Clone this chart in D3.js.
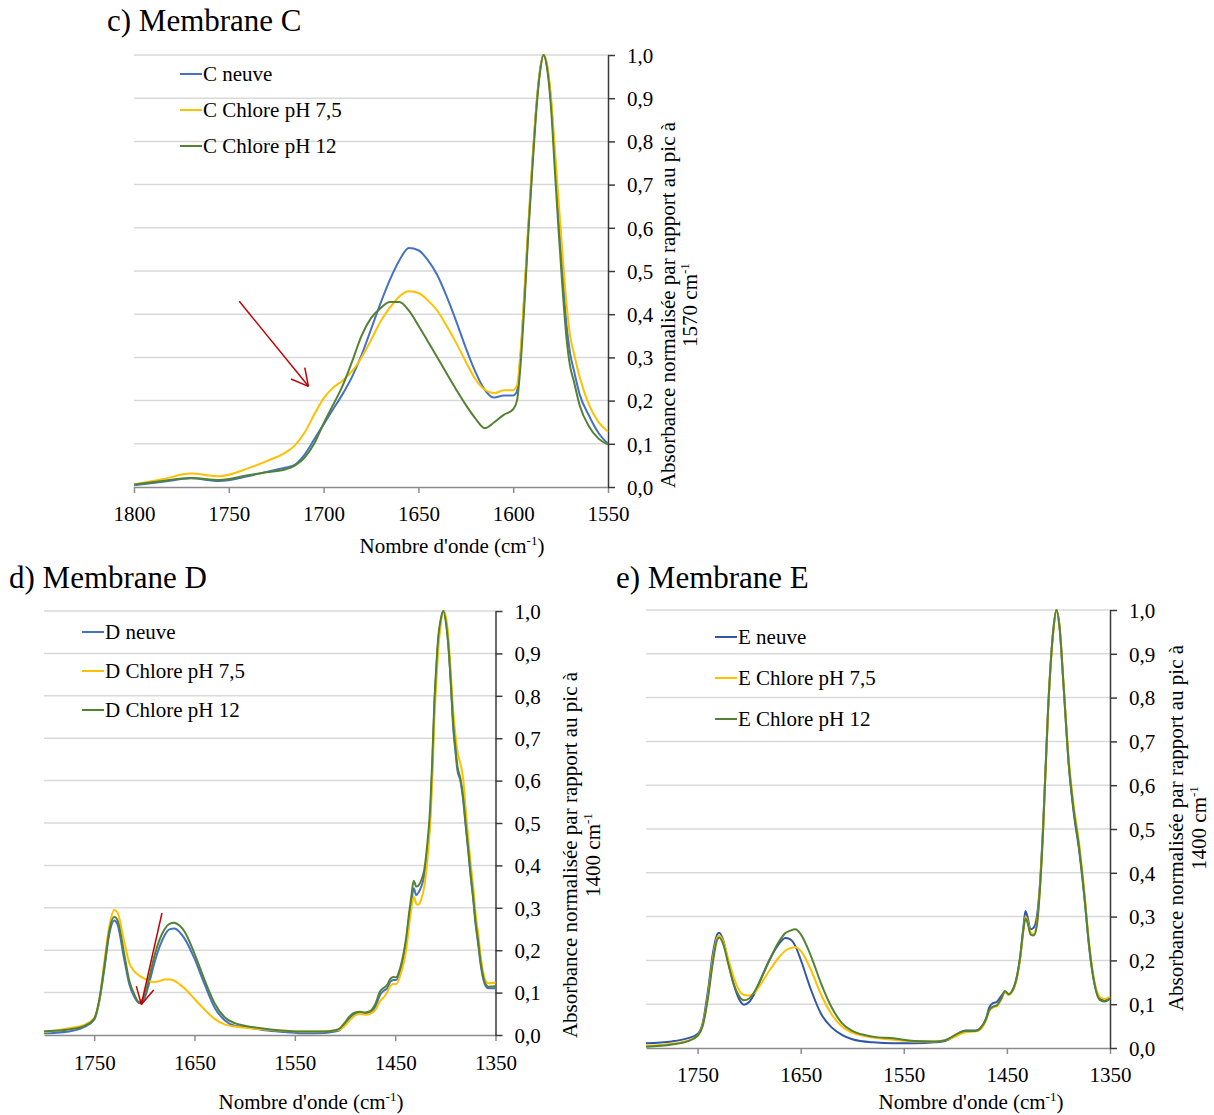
<!DOCTYPE html>
<html><head><meta charset="utf-8">
<script src="https://cdn.jsdelivr.net/npm/d3@7"></script>
<style>
body{margin:0;background:#fff}
svg{display:block;font-family:"Liberation Serif","Times New Roman",serif}
svg text{font-family:"Liberation Serif","Times New Roman",serif !important;fill:#000}
</style>
</head><body>
<svg id="chart" width="1214" height="1115"></svg>
<script>
// ---------- DATA ----------
const yTicks = [0,0.1,0.2,0.3,0.4,0.5,0.6,0.7,0.8,0.9,1.0];
const xTicksC = [1800,1750,1700,1650,1600,1550];
const xTicksDE = [1750,1650,1550,1450,1350];

const seriesNamesC = ["C neuve","C Chlore pH 7,5","C Chlore pH 12"];
const seriesNamesD = ["D neuve","D Chlore pH 7,5","D Chlore pH 12"];
const seriesNamesE = ["E neuve","E Chlore pH 7,5","E Chlore pH 12"];

// Panel C (wavenumber, cm-1)
const waveC = [1800,1785,1770,1755,1740,1730,1720,1715,1710,1705,1700,1695,1690,1685,1680,1675,1670,1665,1660,1655,1650,1645,1640,1635,1630,1625,1620,1615,1610,1605,1600,1598,1596,1594,1592,1590,1588,1586,1584,1582,1580,1578,1576,1574,1572,1570,1568,1565,1560,1555,1550];
const cNeuve = [.004,.012,.02,.014,.025,.035,.045,.052,.075,.11,.145,.18,.215,.255,.305,.365,.425,.48,.525,.553,.548,.525,.49,.44,.383,.322,.267,.225,.207,.212,.212,.222,.31,.45,.6,.74,.87,.96,1.0,.97,.89,.76,.63,.5,.38,.31,.27,.215,.165,.125,.1];
const cPh75 = [.006,.018,.031,.025,.043,.06,.08,.097,.126,.167,.205,.23,.246,.268,.3,.34,.383,.415,.441,.453,.449,.432,.408,.372,.333,.29,.25,.225,.217,.224,.224,.235,.32,.46,.61,.75,.87,.96,1.0,.975,.9,.78,.66,.54,.43,.35,.31,.255,.19,.15,.128];
const cPh12 = [.006,.014,.021,.016,.027,.034,.041,.05,.068,.1,.147,.19,.234,.29,.35,.391,.414,.428,.428,.408,.374,.337,.3,.262,.225,.19,.159,.136,.15,.167,.18,.2,.29,.43,.59,.73,.86,.955,1.0,.965,.875,.73,.59,.46,.35,.28,.245,.19,.14,.112,.098];

// Panel D
const waveD = [1800,1790,1775,1760,1750,1745,1740,1735,1730,1727,1720,1715,1710,1705,1700,1695,1690,1685,1680,1675,1670,1665,1660,1650,1640,1630,1620,1610,1600,1580,1560,1540,1520,1510,1505,1500,1495,1490,1485,1480,1475,1470,1465,1461,1458,1455,1452,1449,1445,1442,1439,1436,1434,1431.5,1429,1427,1424,1421,1418,1415,1413,1411,1409,1407,1405,1402,1399,1397,1395,1392,1390,1388,1385,1382,1380,1377,1375,1372,1370,1367,1365,1362,1360,1357,1350];
const dNeuve = [.004,.005,.008,.019,.036,.078,.153,.237,.27,.262,.178,.12,.09,.075,.086,.124,.17,.207,.234,.249,.251,.243,.228,.18,.12,.065,.035,.022,.019,.011,.007,.004,.005,.008,.012,.025,.04,.05,.052,.05,.053,.065,.095,.105,.11,.125,.13,.13,.15,.18,.22,.28,.31,.346,.33,.335,.35,.375,.43,.52,.63,.77,.86,.93,.97,1.0,.97,.92,.85,.72,.67,.625,.6,.55,.5,.43,.38,.315,.265,.21,.17,.13,.116,.11,.11];
const dPh75 = [.007,.01,.016,.024,.04,.08,.17,.255,.295,.29,.22,.17,.15,.14,.133,.127,.125,.127,.131,.131,.128,.12,.11,.085,.06,.038,.025,.02,.017,.013,.01,.008,.009,.011,.013,.022,.035,.046,.05,.048,.05,.058,.08,.09,.1,.115,.12,.12,.14,.165,.2,.26,.295,.326,.31,.307,.32,.35,.41,.5,.6,.74,.83,.91,.96,1.0,.98,.94,.87,.76,.71,.67,.64,.6,.54,.46,.41,.345,.29,.235,.19,.145,.128,.122,.124];
const dPh12 = [.009,.01,.013,.021,.038,.082,.16,.245,.279,.272,.19,.128,.096,.077,.092,.136,.186,.224,.249,.262,.265,.258,.244,.192,.13,.075,.042,.028,.022,.015,.01,.008,.008,.011,.016,.03,.045,.053,.055,.053,.056,.072,.103,.112,.118,.132,.137,.136,.158,.188,.23,.29,.325,.364,.35,.352,.365,.39,.45,.54,.65,.78,.87,.94,.975,1.0,.965,.92,.85,.73,.68,.635,.605,.555,.505,.435,.385,.32,.27,.215,.175,.135,.12,.114,.115];

// Panel E
const waveE = [1800,1775,1760,1750,1745,1740,1735,1731,1729,1725,1720,1715,1710,1705,1700,1695,1690,1680,1670,1665,1660,1655,1650,1640,1630,1620,1610,1600,1580,1560,1540,1520,1510,1500,1495,1490,1480,1475,1470,1467,1463,1460,1455,1452,1448,1445,1440,1437,1434,1432,1430,1427,1424,1421,1418,1415,1410,1405,1402,1399,1395,1390,1385,1380,1375,1370,1365,1360,1355,1350];
const eNeuve = [.011,.015,.022,.032,.057,.129,.218,.259,.263,.245,.194,.146,.113,.099,.105,.123,.15,.202,.241,.251,.248,.232,.202,.133,.077,.047,.03,.02,.013,.011,.011,.013,.016,.028,.036,.04,.04,.047,.069,.093,.103,.105,.12,.128,.123,.129,.166,.21,.275,.313,.299,.271,.275,.299,.372,.501,.776,.954,1.0,.962,.825,.647,.534,.453,.348,.226,.146,.113,.109,.115];
const ePh75 = [.005,.01,.016,.028,.053,.117,.206,.252,.257,.243,.202,.162,.133,.121,.12,.125,.141,.178,.21,.222,.228,.23,.222,.178,.121,.077,.049,.035,.024,.019,.015,.015,.018,.026,.032,.036,.038,.044,.065,.085,.093,.095,.113,.128,.121,.128,.162,.206,.267,.299,.291,.263,.26,.283,.364,.49,.77,.95,1.0,.965,.83,.66,.55,.469,.36,.235,.15,.117,.112,.117];
const ePh12 = [.003,.008,.015,.028,.05,.113,.198,.247,.252,.236,.19,.146,.12,.109,.113,.128,.15,.202,.247,.262,.268,.271,.26,.21,.146,.093,.057,.039,.026,.022,.016,.015,.018,.03,.036,.039,.039,.047,.067,.087,.095,.097,.115,.13,.123,.13,.166,.21,.271,.295,.287,.259,.257,.279,.36,.49,.775,.953,1.0,.963,.827,.65,.54,.458,.352,.228,.146,.11,.106,.113];

// arrows (wavenumber, value): [start, tip]
const arrowC = [[1744.5,0.43],[1708,0.233]];
const arrowD = [[1682.4,0.288],[1703,0.072]];

// ---------- DRAW ----------
const svg = d3.select("#chart");
const FONT = 21;
const SERIF = '"Liberation Serif","Times New Roman",serif';

function sup(sel, before, supTxt, after) {
  sel.append("tspan").text(before);
  sel.append("tspan").attr("dy",-8).style("font-size","13px").text(supTxt);
  if (after !== undefined) sel.append("tspan").attr("dy",8).text(after);
}

function drawPanel(p) {
  const x = d3.scaleLinear().domain(p.xDomain).range([p.left, p.right]);
  const y = d3.scaleLinear().domain([0,1]).range([p.bottom, p.top]);
  const g = svg.append("g");

  g.append("text").attr("x",p.titleX).attr("y",p.titleY).style("font-size","31px").text(p.title);

  g.append("g").selectAll("line").data(yTicks.filter(t=>t>0)).join("line")
    .attr("x1",p.left).attr("x2",p.right)
    .attr("y1",d=>y(d)).attr("y2",d=>y(d))
    .attr("stroke","#d9d9d9").attr("stroke-width",1.5);

  const xa = g.append("g").attr("transform",`translate(0,${p.bottom})`)
    .call(d3.axisBottom(x).tickValues(p.xTicks).tickSize(6).tickSizeOuter(0).tickFormat(d3.format("d")));
  xa.attr("font-family",null).attr("font-size",null);
  xa.select(".domain").attr("stroke","#8c8c8c").attr("stroke-width",1.5);
  xa.selectAll(".tick line").attr("stroke","#8c8c8c").attr("stroke-width",1.5);
  xa.selectAll(".tick text").attr("y",p.xLabelDy).attr("dy","0.35em")
    .style("font-size",FONT+"px").style("font-family",SERIF).attr("fill","#000");

  const ya = g.append("g").attr("transform",`translate(${p.right},0)`)
    .call(d3.axisRight(y).tickValues(yTicks).tickSize(7).tickSizeOuter(0)
      .tickFormat(d=>d.toFixed(1).replace(".",",")));
  ya.attr("font-family",null).attr("font-size",null);
  ya.select(".domain").attr("stroke","#3a3a3a").attr("stroke-width",1.5);
  ya.selectAll(".tick line").attr("stroke","#3a3a3a").attr("stroke-width",1.5);
  ya.selectAll(".tick text").attr("x",19).attr("dy","0.35em")
    .style("font-size",FONT+"px").style("font-family",SERIF).attr("fill","#000");

  const line = d3.line().x(d=>x(d[0])).y(d=>y(d[1])).curve(d3.curveMonotoneX);
  p.series.forEach(s=>{
    g.append("path").datum(p.wave.map((w,i)=>[w,s.values[i]]))
      .attr("d",line).attr("fill","none").attr("stroke",s.color)
      .attr("stroke-width",2).attr("stroke-linejoin","round");
  });

  p.series.forEach((s,i)=>{
    const ly = p.legendY[i];
    g.append("line").attr("x1",p.legendX).attr("x2",p.legendX+22)
      .attr("y1",ly).attr("y2",ly).attr("stroke",s.color).attr("stroke-width",2);
    g.append("text").attr("x",p.legendX+23).attr("y",ly).attr("dy","0.35em")
      .style("font-size",FONT+"px").text(s.name);
  });

  const xt = g.append("text").attr("x",p.xTitleX).attr("y",p.xTitleY).attr("dy","0.35em")
    .attr("text-anchor","middle").style("font-size",FONT+"px");
  sup(xt,"Nombre d'onde (cm","-1",")");

  g.append("text").attr("transform",`translate(${p.yTitleX1},${p.yTitleY}) rotate(-90)`)
    .attr("text-anchor","middle").attr("dy","0.35em").style("font-size",FONT+"px")
    .text("Absorbance normalisée par rapport au pic à");
  const yt2 = g.append("text").attr("transform",`translate(${p.yTitleX2},${p.yTitleY}) rotate(-90)`)
    .attr("text-anchor","middle").attr("dy","0.35em").style("font-size",FONT+"px");
  sup(yt2, p.peakLabel + " cm", "-1");

  if (p.arrow) {
    const [s,t] = p.arrow;
    const x0=x(s[0]), y0=y(s[1]), x1=x(t[0]), y1=y(t[1]);
    const ang = Math.atan2(y0-y1, x0-x1);
    const hl = 19, ha = 28*Math.PI/180;
    const ag = g.append("g").attr("stroke","#c00000").attr("stroke-width",1.5).attr("fill","none");
    ag.append("line").attr("x1",x0).attr("y1",y0).attr("x2",x1).attr("y2",y1);
    [ha,-ha].forEach(a=>{
      ag.append("line").attr("x1",x1).attr("y1",y1)
        .attr("x2",x1+hl*Math.cos(ang+a)).attr("y2",y1+hl*Math.sin(ang+a));
    });
  }
}

const blue="#4472c4", yellow="#ffc000", green="#548235", blueE="#3157a6";

drawPanel({
  title:"c) Membrane C", titleX:107, titleY:31,
  left:134, right:608, top:55, bottom:487, xDomain:[1800,1550], xTicks:xTicksC, xLabelDy:27,
  wave:waveC,
  series:[{name:seriesNamesC[0],values:cNeuve,color:blue},{name:seriesNamesC[1],values:cPh75,color:yellow},{name:seriesNamesC[2],values:cPh12,color:green}],
  legendX:180, legendY:[74,110,146],
  xTitleX:452, xTitleY:546,
  yTitleX1:668, yTitleX2:690, yTitleY:305, peakLabel:"1570",
  arrow:arrowC
});
drawPanel({
  title:"d) Membrane D", titleX:9, titleY:588,
  left:44, right:495.5, top:611, bottom:1035, xDomain:[1800,1350], xTicks:xTicksDE, xLabelDy:28,
  wave:waveD,
  series:[{name:seriesNamesD[0],values:dNeuve,color:blue},{name:seriesNamesD[1],values:dPh75,color:yellow},{name:seriesNamesD[2],values:dPh12,color:green}],
  legendX:82, legendY:[632,671,710],
  xTitleX:311, xTitleY:1102,
  yTitleX1:570, yTitleX2:593, yTitleY:855, peakLabel:"1400",
  arrow:arrowD
});
drawPanel({
  title:"e) Membrane E", titleX:616, titleY:588,
  left:646, right:1110, top:610, bottom:1048, xDomain:[1800,1350], xTicks:xTicksDE, xLabelDy:27,
  wave:waveE,
  series:[{name:seriesNamesE[0],values:eNeuve,color:blueE},{name:seriesNamesE[1],values:ePh75,color:yellow},{name:seriesNamesE[2],values:ePh12,color:green}],
  legendX:715, legendY:[637,678,719],
  xTitleX:971, xTitleY:1102,
  yTitleX1:1176, yTitleX2:1199, yTitleY:828, peakLabel:"1400",
  arrow:null
});
</script>
</body></html>
